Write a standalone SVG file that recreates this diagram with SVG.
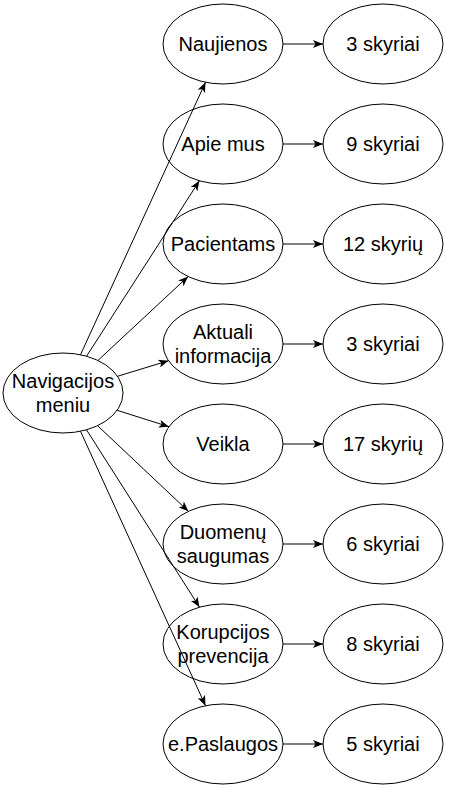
<svg xmlns="http://www.w3.org/2000/svg" width="451" height="788" viewBox="0 0 451 788">
<defs>
<marker id="arr" viewBox="0 0 10 8" refX="10" refY="4" markerWidth="10" markerHeight="8" markerUnits="userSpaceOnUse" orient="auto">
<path d="M0,0 L10,4 L0,8 L2.5,4 Z" fill="#000"/>
</marker>
</defs>
<style>
ellipse{fill:#fff;stroke:#000;stroke-width:1}
text{font-family:"Liberation Sans",Arial,Helvetica,sans-serif;font-size:20px;fill:#000;text-anchor:middle}
.c line{stroke:#000;stroke-width:1;marker-end:url(#arr)}
</style>
<rect width="451" height="788" fill="#fff"/>
<g id="n-nav"><ellipse cx="63" cy="393" rx="60" ry="40"/><text x="63" y="388">Navigacijos</text><text x="63" y="412">meniu</text></g>
<g id="n1"><ellipse cx="223" cy="44" rx="60" ry="40"/><text x="223" y="51">Naujienos</text></g>
<g id="n2"><ellipse cx="223" cy="144" rx="60" ry="40"/><text x="223" y="151">Apie mus</text></g>
<g id="n3"><ellipse cx="223" cy="244" rx="60" ry="40"/><text x="223" y="251">Pacientams</text></g>
<g id="n4"><ellipse cx="223" cy="344" rx="60" ry="40"/><text x="223" y="339">Aktuali</text><text x="223" y="363">informacija</text></g>
<g id="n5"><ellipse cx="223" cy="444" rx="60" ry="40"/><text x="223" y="451">Veikla</text></g>
<g id="n6"><ellipse cx="223" cy="544" rx="60" ry="40"/><text x="223" y="539">Duomenų</text><text x="223" y="563">saugumas</text></g>
<g id="n7"><ellipse cx="223" cy="644" rx="60" ry="40"/><text x="223" y="639">Korupcijos</text><text x="223" y="663">prevencija</text></g>
<g id="n8"><ellipse cx="223" cy="744" rx="60" ry="40"/><text x="223" y="751">e.Paslaugos</text></g>
<g id="r1"><ellipse cx="383" cy="44" rx="60" ry="40"/><text x="383" y="51">3 skyriai</text></g>
<g id="r2"><ellipse cx="383" cy="144" rx="60" ry="40"/><text x="383" y="151">9 skyriai</text></g>
<g id="r3"><ellipse cx="383" cy="244" rx="60" ry="40"/><text x="383" y="251">12 skyrių</text></g>
<g id="r4"><ellipse cx="383" cy="344" rx="60" ry="40"/><text x="383" y="351">3 skyriai</text></g>
<g id="r5"><ellipse cx="383" cy="444" rx="60" ry="40"/><text x="383" y="451">17 skyrių</text></g>
<g id="r6"><ellipse cx="383" cy="544" rx="60" ry="40"/><text x="383" y="551">6 skyriai</text></g>
<g id="r7"><ellipse cx="383" cy="644" rx="60" ry="40"/><text x="383" y="651">8 skyriai</text></g>
<g id="r8"><ellipse cx="383" cy="744" rx="60" ry="40"/><text x="383" y="751">5 skyriai</text></g>
<g id="connectors" class="c">
<line x1="80.5" y1="354.7" x2="205.5" y2="82.3"/>
<line x1="86.6" y1="356.2" x2="199.4" y2="180.8"/>
<line x1="97.9" y1="360.5" x2="188.1" y2="276.5"/>
<line x1="117.5" y1="376.3" x2="168.5" y2="360.7"/>
<line x1="117.1" y1="410.3" x2="168.9" y2="426.7"/>
<line x1="97.6" y1="425.7" x2="188.4" y2="511.3"/>
<line x1="86.5" y1="429.8" x2="199.5" y2="607.2"/>
<line x1="80.5" y1="431.3" x2="205.5" y2="705.7"/>
<line x1="283" y1="44" x2="323" y2="44"/>
<line x1="283" y1="144" x2="323" y2="144"/>
<line x1="283" y1="244" x2="323" y2="244"/>
<line x1="283" y1="344" x2="323" y2="344"/>
<line x1="283" y1="444" x2="323" y2="444"/>
<line x1="283" y1="544" x2="323" y2="544"/>
<line x1="283" y1="644" x2="323" y2="644"/>
<line x1="283" y1="744" x2="323" y2="744"/>
</g>
</svg>
